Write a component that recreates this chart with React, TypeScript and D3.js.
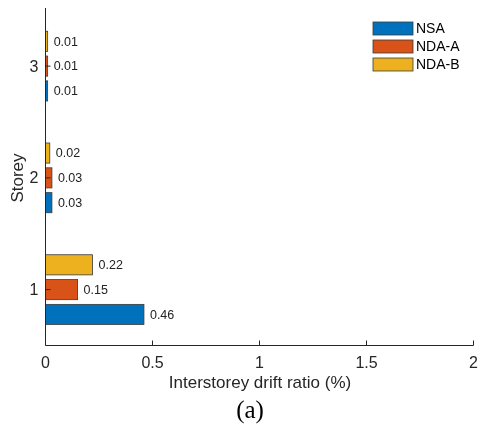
import React, { useRef, useEffect } from 'react';
import * as d3 from 'd3';

const storeys = [1, 2, 3];
const seriesNames = ['NSA', 'NDA-A', 'NDA-B'];
const nsa = [0.46, 0.03, 0.01];
const ndaA = [0.15, 0.03, 0.01];
const ndaB = [0.22, 0.02, 0.01];
const colors = ['#0072BD', '#D95319', '#EDB120'];
const xTicks = [0, 0.5, 1, 1.5, 2];

const App = () => {
  const svgRef = useRef<SVGSVGElement>(null);

  useEffect(() => {
    const svg = d3.select(svgRef.current);
    svg.selectAll('*').remove();

    const left = 45.5;
    const right = 473.5;
    const top = 8;
    const bottom = 345.5;
    const font = 'Arial, "Liberation Sans", sans-serif';
    const axisColor = '#262626';

    const x = d3.scaleLinear().domain([0, 2]).range([left, right]);
    const y = d3.scaleLinear().domain([0.5, 3.52]).range([bottom, top]);

    const values = [nsa, ndaA, ndaB];
    // offsets in storey units: NSA below, NDA-B above
    const offsets = [-0.222, 0, 0.222];
    const barH = 0.18;

    values.forEach((vals, s) => {
      const g = svg.append('g');
      vals.forEach((v, i) => {
        const yc = storeys[i] + offsets[s];
        g.append('rect')
          .attr('x', x(0))
          .attr('y', y(yc + barH / 2))
          .attr('width', Math.max(x(v) - x(0), 2))
          .attr('height', y(yc - barH / 2) - y(yc + barH / 2))
          .style('fill', colors[s])
          .style('stroke', '#3a3a3a')
          .style('stroke-width', 0.8);
        g.append('text')
          .text(v.toFixed(2))
          .attr('x', Math.max(x(v), x(0) + 2) + 6)
          .attr('y', y(yc))
          .attr('dy', '0.35em')
          .style('font-family', font)
          .style('font-size', '12.5px')
          .style('fill', '#222');
      });
    });

    // axes lines
    svg.append('line')
      .attr('x1', left).attr('x2', left)
      .attr('y1', top).attr('y2', bottom)
      .style('stroke', axisColor).style('stroke-width', 1);
    svg.append('line')
      .attr('x1', left).attr('x2', right)
      .attr('y1', bottom).attr('y2', bottom)
      .style('stroke', axisColor).style('stroke-width', 1);

    // x ticks
    xTicks.forEach((t) => {
      svg.append('line')
        .attr('x1', x(t)).attr('x2', x(t))
        .attr('y1', bottom).attr('y2', bottom - 5)
        .style('stroke', axisColor);
      svg.append('text')
        .text(String(t))
        .attr('x', x(t))
        .attr('y', bottom + 22)
        .attr('text-anchor', 'middle')
        .style('font-family', font)
        .style('font-size', '16px')
        .style('fill', axisColor);
    });

    // y ticks
    storeys.forEach((s) => {
      svg.append('line')
        .attr('x1', left).attr('x2', left + 5)
        .attr('y1', y(s)).attr('y2', y(s))
        .style('stroke', axisColor);
      svg.append('text')
        .text(String(s))
        .attr('x', left - 7)
        .attr('y', y(s))
        .attr('dy', '0.35em')
        .attr('text-anchor', 'end')
        .style('font-family', font)
        .style('font-size', '16px')
        .style('fill', axisColor);
    });

    // axis titles
    svg.append('text')
      .text('Interstorey drift ratio (%)')
      .attr('x', 260)
      .attr('y', 388)
      .attr('text-anchor', 'middle')
      .style('font-family', font)
      .style('font-size', '17px')
      .style('fill', axisColor);

    svg.append('text')
      .text('Storey')
      .attr('transform', `translate(23,178) rotate(-90)`)
      .attr('text-anchor', 'middle')
      .style('font-family', font)
      .style('font-size', '17px')
      .style('fill', axisColor);

    svg.append('text')
      .text('(a)')
      .attr('x', 250)
      .attr('y', 418)
      .attr('text-anchor', 'middle')
      .style('font-family', '"Liberation Serif", "Times New Roman", serif')
      .style('font-size', '25px')
      .style('fill', '#000');

    // legend
    const legend = svg.append('g').attr('transform', 'translate(373,22)');
    seriesNames.forEach((name, i) => {
      legend.append('rect')
        .attr('x', 0)
        .attr('y', i * 18)
        .attr('width', 40)
        .attr('height', 13)
        .style('fill', colors[i])
        .style('stroke', '#3a3a3a')
        .style('stroke-width', 0.8);
      legend.append('text')
        .text(name)
        .attr('x', 43)
        .attr('y', i * 18 + 6.5)
        .attr('dy', '0.35em')
        .style('font-family', font)
        .style('font-size', '14px')
        .style('fill', '#000');
    });
  }, []);

  return (
    <div style={{ position: 'fixed', left: 0, top: 0, width: 480, height: 432, overflow: 'visible' }}>
      <svg ref={svgRef} width="480" height="432" style={{ display: 'block', overflow: 'visible' }}></svg>
    </div>
  );
};

export default App;
